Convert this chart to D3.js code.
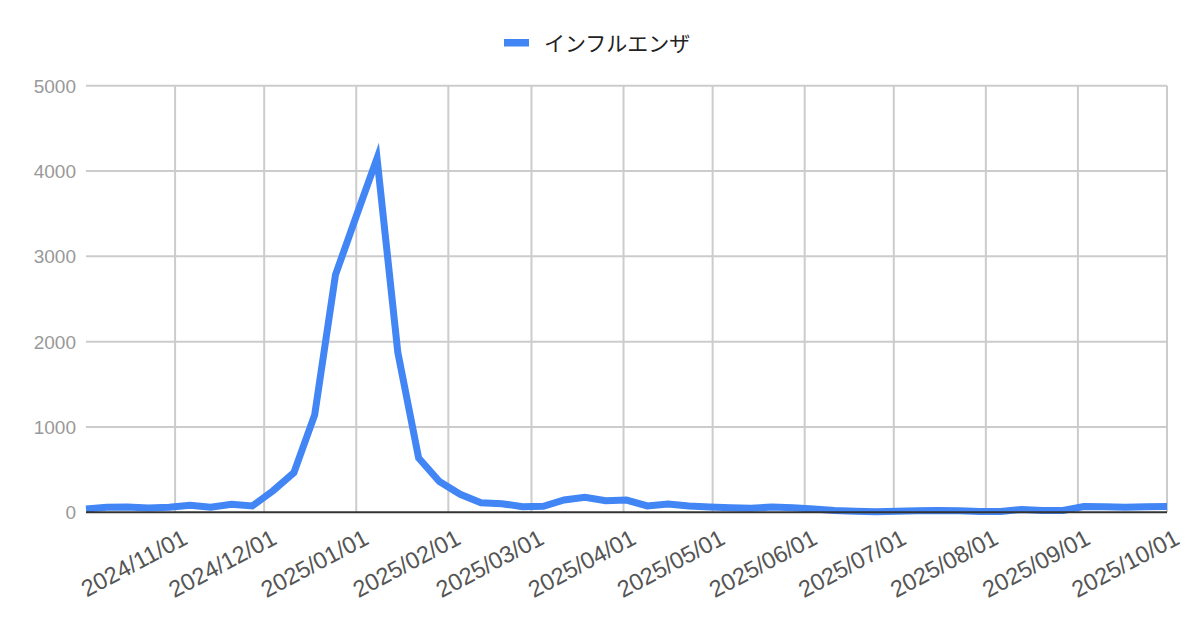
<!DOCTYPE html>
<html>
<head>
<meta charset="utf-8">
<script src="https://cdn.jsdelivr.net/npm/d3@7"></script>
<style>
  body { margin: 0; background: #fff; }
  text { font-family: "Liberation Sans", Arial, sans-serif; }
</style>
</head>
<body>
<div id="chart"></div>
<script>
// weekly counts, one point per week
var weeks = [
  "2024-10-02", "2024-10-09", "2024-10-16", "2024-10-23", "2024-10-30",
  "2024-11-06", "2024-11-13", "2024-11-20", "2024-11-27",
  "2024-12-04", "2024-12-11", "2024-12-18", "2024-12-25",
  "2025-01-01", "2025-01-08", "2025-01-15", "2025-01-22", "2025-01-29",
  "2025-02-05", "2025-02-12", "2025-02-19", "2025-02-26",
  "2025-03-05", "2025-03-12", "2025-03-19", "2025-03-26",
  "2025-04-02", "2025-04-09", "2025-04-16", "2025-04-23", "2025-04-30",
  "2025-05-07", "2025-05-14", "2025-05-21", "2025-05-28",
  "2025-06-04", "2025-06-11", "2025-06-18", "2025-06-25",
  "2025-07-02", "2025-07-09", "2025-07-16", "2025-07-23", "2025-07-30",
  "2025-08-06", "2025-08-13", "2025-08-20", "2025-08-27",
  "2025-09-03", "2025-09-10", "2025-09-17", "2025-09-24",
  "2025-10-01"
];
var influenza = [
  39, 59, 62, 50, 59,
  82, 59, 94, 74,
  253, 464, 1141, 2782,
  3470, 4150, 1874, 637, 360,
  211, 113, 101, 66,
  70, 144, 176, 136,
  144, 74, 97, 74, 62,
  54, 47, 62, 54,
  39, 21, 13, 6,
  13, 17, 21, 17, 9,
  9, 33, 21, 21,
  68, 64, 60, 64,
  68
];
var monthTicks = [
  "2024-11-01", "2024-12-01", "2025-01-01", "2025-02-01", "2025-03-01",
  "2025-04-01", "2025-05-01", "2025-06-01", "2025-07-01", "2025-08-01",
  "2025-09-01", "2025-10-01"
];
var yTicks = [0, 1000, 2000, 3000, 4000, 5000];
var seriesName = "インフルエンザ";

var width = 1200, height = 626;
var parse = d3.utcParse("%Y-%m-%d");
var fmt = d3.utcFormat("%Y/%m/%d");

var data = weeks.map(function(w, i) {
  return { date: parse(w), value: influenza[i] };
});

var x = d3.scaleUtc()
  .domain(d3.extent(data, d => d.date))
  .range([86, 1167]);

var y = d3.scaleLinear()
  .domain([0, 5000])
  .range([512.3, 85.7]);

var svg = d3.select("#chart")
  .append("svg")
  .attr("width", width)
  .attr("height", height);

var tickDates = monthTicks.map(parse);

// grid
svg.append("g")
  .selectAll("line")
  .data(yTicks.filter(d => d > 0))
  .enter().append("line")
  .attr("x1", x.range()[0])
  .attr("x2", x.range()[1])
  .attr("y1", d => y(d))
  .attr("y2", d => y(d))
  .attr("stroke", "#cccccc")
  .attr("stroke-width", 2);

svg.append("g")
  .selectAll("line")
  .data(tickDates)
  .enter().append("line")
  .attr("x1", d => x(d))
  .attr("x2", d => x(d))
  .attr("y1", y(5000))
  .attr("y2", y(0))
  .attr("stroke", "#cccccc")
  .attr("stroke-width", 2);

// y labels
svg.append("g")
  .selectAll("text")
  .data(yTicks)
  .enter().append("text")
  .attr("x", 76)
  .attr("y", d => y(d))
  .attr("dy", "0.36em")
  .attr("text-anchor", "end")
  .attr("font-size", 19)
  .attr("fill", "#999999")
  .text(d => d);

// x labels
svg.append("g")
  .selectAll("text")
  .data(tickDates)
  .enter().append("text")
  .attr("text-anchor", "end")
  .attr("font-size", 23.5)
  .attr("fill", "#555555")
  .attr("transform", d => "translate(" + (x(d) + 14) + ",543) rotate(-28)")
  .text(d => fmt(d));

// series
var line = d3.line()
  .x(d => x(d.date))
  .y(d => y(d.value));

svg.append("path")
  .datum(data)
  .attr("d", line)
  .attr("fill", "none")
  .attr("stroke", "#4285f4")
  .attr("stroke-width", 7)
  .attr("stroke-linejoin", "miter")
  .attr("stroke-miterlimit", 10);

// baseline
svg.append("line")
  .attr("x1", x.range()[0])
  .attr("x2", x.range()[1])
  .attr("y1", y(0))
  .attr("y2", y(0))
  .attr("stroke", "#333333")
  .attr("stroke-width", 2);

// legend
var legend = svg.append("g");
legend.append("rect")
  .attr("x", 504)
  .attr("y", 39)
  .attr("width", 25)
  .attr("height", 7.5)
  .attr("fill", "#4285f4");
legend.append("text")
  .attr("x", 544)
  .attr("y", 43)
  .attr("dy", "0.36em")
  .attr("font-size", 21)
  .attr("fill", "#222222")
  .style("font-family", "'Noto Sans CJK JP', sans-serif")
  .text(seriesName);
</script>
</body>
</html>
